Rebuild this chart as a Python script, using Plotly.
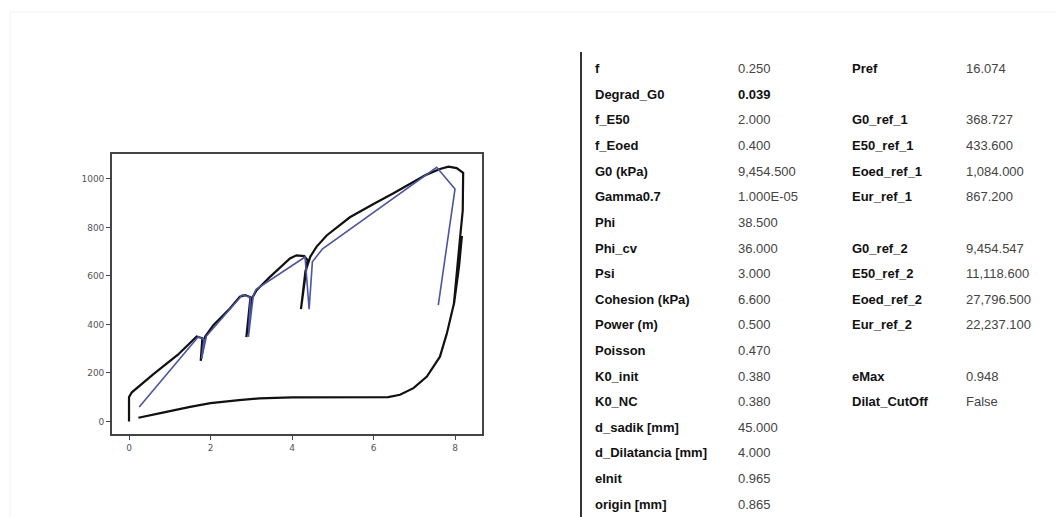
import plotly.graph_objects as go

# Load path with unload/reload loops (black) and simplified model path (blue)
black_x = [0.00, 0.00, 0.07, 0.60, 1.20, 1.66, 1.80, 1.76, 1.83, 1.87, 2.07, 2.44, 2.72, 2.85,
           2.98, 2.88, 3.01, 3.13, 3.46, 3.95, 4.11, 4.30, 4.38, 4.22, 4.33, 4.45, 4.60, 4.85,
           5.42, 6.00, 6.49, 7.30, 7.63, 7.84, 8.04, 8.20, 8.19, 8.12, 7.97, 8.05, 8.17, 8.10,
           7.98, 7.80, 7.63, 7.31, 6.98, 6.65, 6.36, 5.00, 4.00, 3.20, 2.70, 2.00, 1.50, 0.80, 0.23]
black_y = [0, 100, 120, 195, 275, 350, 343, 250, 320, 350, 397, 459, 514, 521,
           512, 348, 505, 541, 596, 672, 685, 682, 665, 463, 620, 680, 720, 767,
           842, 897, 941, 1018, 1041, 1051, 1045, 1025, 870, 750, 480, 600, 765, 640,
           490, 363, 267, 185, 137, 110, 100, 100, 99, 95, 88, 75, 60, 35, 15]

blue_x = [0.25, 1.70, 1.84, 1.78, 1.90, 2.78, 2.98, 2.93, 3.05, 3.12, 4.32, 4.42, 4.50, 4.75,
          7.55, 8.00, 7.59]
blue_y = [59, 349, 338, 258, 352, 522, 512, 349, 520, 545, 678, 463, 658, 712,
          1048, 959, 480]

x_ticks = [0, 2, 4, 6, 8]
y_ticks = [0, 200, 400, 600, 800, 1000]

# Parameter table: (label, value, bold value)
left_rows = [
    ("f", "0.250", False), ("Degrad_G0", "0.039", True), ("f_E50", "2.000", False),
    ("f_Eoed", "0.400", False), ("G0 (kPa)", "9,454.500", False), ("Gamma0.7", "1.000E-05", False),
    ("Phi", "38.500", False), ("Phi_cv", "36.000", False), ("Psi", "3.000", False),
    ("Cohesion (kPa)", "6.600", False), ("Power (m)", "0.500", False), ("Poisson", "0.470", False),
    ("K0_init", "0.380", False), ("K0_NC", "0.380", False), ("d_sadik [mm]", "45.000", False),
    ("d_Dilatancia [mm]", "4.000", False), ("eInit", "0.965", False), ("origin [mm]", "0.865", False),
]
# (row index, label, value)
right_rows = [
    (0, "Pref", "16.074"),
    (2, "G0_ref_1", "368.727"), (3, "E50_ref_1", "433.600"),
    (4, "Eoed_ref_1", "1,084.000"), (5, "Eur_ref_1", "867.200"),
    (7, "G0_ref_2", "9,454.547"), (8, "E50_ref_2", "11,118.600"),
    (9, "Eoed_ref_2", "27,796.500"), (10, "Eur_ref_2", "22,237.100"),
    (12, "eMax", "0.948"), (13, "Dilat_CutOff", "False"),
]

W, H = 1056, 517
fig = go.Figure()
fig.add_trace(go.Scatter(x=black_x, y=black_y, mode="lines",
                         line=dict(color="#111111", width=2.2), showlegend=False))
fig.add_trace(go.Scatter(x=blue_x, y=blue_y, mode="lines",
                         line=dict(color="#4b54a6", width=1.6), showlegend=False))

axis_common = dict(showgrid=False, zeroline=False, showline=True, mirror=True,
                   linecolor="#444444", linewidth=1.5, ticks="outside", ticklen=4,
                   tickcolor="#444444", tickfont=dict(family="DejaVu Sans", size=9, color="#555555"))
fig.update_xaxes(range=[-0.42, 8.66], tickvals=x_ticks, ticktext=[str(v) for v in x_ticks],
                 domain=[111.9 / W, 481.9 / W], **axis_common)
fig.update_yaxes(range=[-52, 1103], tickvals=y_ticks, ticktext=[str(v) for v in y_ticks],
                 domain=[1 - 434 / H, 1 - 154 / H], **axis_common)

def ypos(i):
    return 1 - (68.8 + 25.6 * i) / H

annotations = []
font_lbl = dict(family="Liberation Sans, Arial", size=13, color="#111111")
font_val = dict(family="Liberation Sans, Arial", size=13, color="#444444")
for i, (lbl, val, bold_val) in enumerate(left_rows):
    annotations.append(dict(x=593 / W, y=ypos(i), xref="paper", yref="paper", text=f"<b>{lbl}</b>",
                            showarrow=False, xanchor="left", yanchor="middle", font=font_lbl))
    txt = f"<b>{val}</b>" if bold_val else val
    annotations.append(dict(x=735.5 / W, y=ypos(i), xref="paper", yref="paper", text=txt,
                            showarrow=False, xanchor="left", yanchor="middle",
                            font=font_lbl if bold_val else font_val))
for i, lbl, val in right_rows:
    annotations.append(dict(x=850 / W, y=ypos(i), xref="paper", yref="paper", text=f"<b>{lbl}</b>",
                            showarrow=False, xanchor="left", yanchor="middle", font=font_lbl))
    annotations.append(dict(x=964 / W, y=ypos(i), xref="paper", yref="paper", text=val,
                            showarrow=False, xanchor="left", yanchor="middle", font=font_val))

shapes = [
    dict(type="line", xref="paper", yref="paper", x0=581 / W, x1=581 / W, y0=0, y1=1 - 52 / H,
         line=dict(color="#333333", width=2)),
    dict(type="line", xref="paper", yref="paper", x0=10 / W, x1=1, y0=1 - 12 / H, y1=1 - 12 / H,
         line=dict(color="#f0f0f0", width=1)),
    dict(type="line", xref="paper", yref="paper", x0=10 / W, x1=10 / W, y0=0, y1=1 - 12 / H,
         line=dict(color="#f3f3f3", width=1)),
]

fig.update_layout(width=W, height=H, margin=dict(l=0, r=0, t=0, b=0),
                  paper_bgcolor="white", plot_bgcolor="white",
                  annotations=annotations, shapes=shapes)
fig.write_html("out.html")
